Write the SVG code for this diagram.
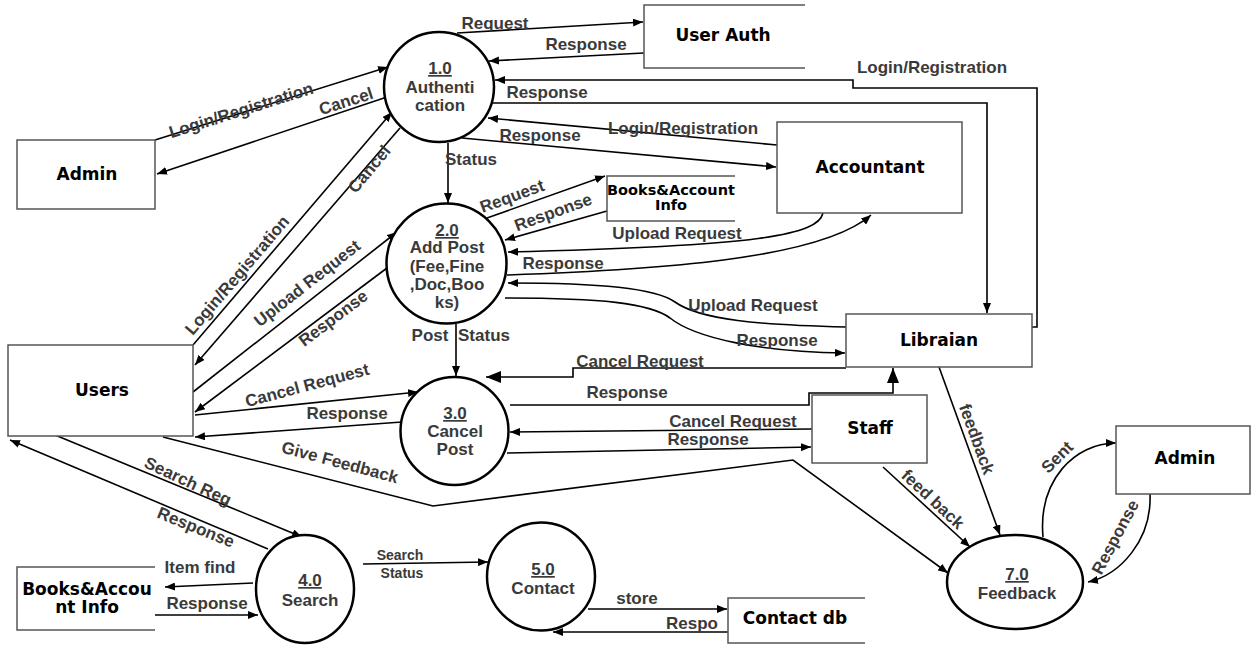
<svg xmlns="http://www.w3.org/2000/svg" width="1252" height="646" viewBox="0 0 1252 646">
<style>
.box{fill:#fff;stroke:#555;stroke-width:1.5}
.store{fill:none;stroke:#555;stroke-width:1.5}
.proc{fill:#fff;stroke:#000;stroke-width:2.5}
.ent{font-family:"DejaVu Sans",Verdana,sans-serif;font-weight:bold;font-size:17px;fill:#000;text-anchor:middle}
.lbl{font-family:"Liberation Sans",Arial,sans-serif;font-weight:bold;font-size:17px;fill:#3a3a3a;text-anchor:middle}
.sm{font-size:14px}
.c{fill:none;stroke:#000;stroke-width:1.6}
.a{marker-end:url(#ah)}
.b{marker-end:url(#big)}
</style>
<defs>
<marker id="ah" markerUnits="userSpaceOnUse" markerWidth="10" markerHeight="8" refX="10" refY="4" orient="auto"><path d="M0,0 L10,4 L0,8 z" fill="#000"/></marker>
<marker id="big" markerUnits="userSpaceOnUse" markerWidth="15" markerHeight="12" refX="15" refY="6" orient="auto"><path d="M0,0 L15,6 L0,12 z" fill="#000"/></marker>
</defs>
<rect width="1252" height="646" fill="#fff"/>

<g id="connectors">
<path class="c a" d="M457,33 L643,22"/>
<path class="c a" d="M644,53 L489,61"/>
<path class="c a" d="M1032,327 L1037,327 L1037,88 L853,88 L853,80 L495,80"/>
<path class="c a" d="M493,103 L987,103 L987,313"/>
<path class="c a" d="M777,145 L488,118"/>
<path class="c a" d="M462,138 L776,167"/>
<path class="c a" d="M448,143 L448,203"/>
<path class="c a" d="M155,140 L388,67"/>
<path class="c a" d="M387,97 L157,174"/>
<path class="c a" d="M193,345 L392,112"/>
<path class="c a" d="M400,128 L195,365"/>
<path class="c a" d="M193,392 L397,232"/>
<path class="c a" d="M387,268 L195,412"/>
<path class="c a" d="M195,415 L418,392"/>
<path class="c a" d="M402,422 L195,437"/>
<path class="c a" d="M487,218 L605,176"/>
<path class="c a" d="M607,211 L505,240"/>
<path class="c a" d="M823,213 C818,235 760,246 508,252"/>
<path class="c a" d="M507,275 C650,270 820,260 871,215"/>
<path class="c a" d="M846,327 C760,325 700,320 675,302 C655,288 600,283 508,283"/>
<path class="c a" d="M505,298 C600,298 650,303 670,318 C695,338 760,352 845,353"/>
<path class="c a" d="M456,324 L456,376"/>
<path class="c b" d="M846,368 L573,368 L573,377 L486,377"/>
<path class="c b" d="M510,405 L809,405 L809,393 L893,393 L893,368"/>
<path class="c a" d="M812,429 L510,432"/>
<path class="c a" d="M507,453 L811,447"/>
<path class="c a" d="M163,437 L433,506 L793,460 L948,573"/>
<path class="c a" d="M55,435 L302,537"/>
<path class="c a" d="M268,549 L10,440"/>
<path class="c a" d="M253,583 L165,587"/>
<path class="c a" d="M155,615 L258,615"/>
<path class="c a" d="M363,564 L488,562"/>
<path class="c a" d="M588,609 L727,609"/>
<path class="c a" d="M728,632 L553,632"/>
<path class="c a" d="M939,367 L1000,535"/>
<path class="c a" d="M883,467 L970,547"/>
<path class="c a" d="M1043,537 C1038,480 1075,443 1116,443"/>
<path class="c a" d="M1150,494 C1152,540 1120,575 1088,582"/>
</g>

<g id="labels">
<text class="lbl" x="495" y="29">Request</text>
<text class="lbl" x="586" y="50">Response</text>
<text class="lbl" x="932" y="73">Login/Registration</text>
<text class="lbl" x="547" y="98">Response</text>
<text class="lbl" x="683" y="134">Login/Registration</text>
<text class="lbl" x="540" y="141">Response</text>
<text class="lbl" x="471" y="165">Status</text>
<text class="lbl" transform="translate(241,110) rotate(-17.5)" y="6">Login/Registration</text>
<text class="lbl" transform="translate(346,101) rotate(-18)" y="6">Cancel</text>
<text class="lbl" transform="translate(512,196) rotate(-20)" y="6">Request</text>
<text class="lbl" transform="translate(553,212) rotate(-20)" y="6">Response</text>
<text class="lbl" x="677" y="239">Upload Request</text>
<text class="lbl" x="563" y="269">Response</text>
<text class="lbl" x="753" y="311">Upload Request</text>
<text class="lbl" x="777" y="346">Response</text>
<text class="lbl" x="430" y="341">Post</text>
<text class="lbl" x="484" y="341">Status</text>
<text class="lbl" x="640" y="367">Cancel Request</text>
<text class="lbl" x="627" y="398">Response</text>
<text class="lbl" x="733" y="427">Cancel Request</text>
<text class="lbl" x="708" y="445">Response</text>
<text class="lbl" transform="translate(237,275) rotate(-49.5)" y="6">Login/Registration</text>
<text class="lbl" transform="translate(369,169) rotate(-50)" y="6">Cancel</text>
<text class="lbl" transform="translate(307,283) rotate(-38)" y="6">Upload Request</text>
<text class="lbl" transform="translate(333,318) rotate(-37)" y="6">Response</text>
<text class="lbl" transform="translate(307,385) rotate(-15)" y="6">Cancel Request</text>
<text class="lbl" x="347" y="419">Response</text>
<text class="lbl" transform="translate(340,462) rotate(15)" y="6">Give Feedback</text>
<text class="lbl" transform="translate(188,481) rotate(25)" y="6">Search Reg</text>
<text class="lbl" transform="translate(196,527) rotate(22)" y="6">Response</text>
<text class="lbl" x="200" y="573">Item find</text>
<text class="lbl" x="207" y="609">Response</text>
<text class="lbl sm" x="400" y="560">Search</text>
<text class="lbl sm" x="402" y="578">Status</text>
<text class="lbl" x="637" y="604">store</text>
<text class="lbl" x="692" y="629">Respo</text>
<text class="lbl" transform="translate(977,439) rotate(70)" y="6">feedback</text>
<text class="lbl" transform="translate(933,499) rotate(43)" y="6">feed back</text>
<text class="lbl" transform="translate(1057,457) rotate(-45)" y="6">Sent</text>
<text class="lbl" transform="translate(1115,537) rotate(-62)" y="6">Response</text>
</g>

<g id="p1">
<circle class="proc" cx="439" cy="87" r="55"/>
<text class="lbl" x="440" y="74" text-decoration="underline">1.0</text>
<text class="lbl" x="440" y="93">Authenti</text>
<text class="lbl" x="440" y="111">cation</text>
</g>
<g id="p2">
<circle class="proc" cx="446.5" cy="263.5" r="60"/>
<text class="lbl" x="447" y="236" text-decoration="underline">2.0</text>
<text class="lbl" x="447" y="253">Add Post</text>
<text class="lbl" x="447" y="272">(Fee,Fine</text>
<text class="lbl" x="447" y="290">,Doc,Boo</text>
<text class="lbl" x="447" y="308">ks)</text>
</g>
<g id="p3">
<circle class="proc" cx="454.5" cy="431" r="54"/>
<text class="lbl" x="455" y="419" text-decoration="underline">3.0</text>
<text class="lbl" x="455" y="437">Cancel</text>
<text class="lbl" x="455" y="455">Post</text>
</g>
<g id="p4">
<ellipse class="proc" cx="305" cy="589" rx="49" ry="54"/>
<text class="lbl" x="310" y="586" text-decoration="underline">4.0</text>
<text class="lbl" x="310" y="606">Search</text>
</g>
<g id="p5">
<circle class="proc" cx="541" cy="576.5" r="54"/>
<text class="lbl" x="543" y="575" text-decoration="underline">5.0</text>
<text class="lbl" x="543" y="594">Contact</text>
</g>
<g id="p7">
<ellipse class="proc" cx="1015" cy="582" rx="68" ry="47"/>
<text class="lbl" x="1017" y="580" text-decoration="underline">7.0</text>
<text class="lbl" x="1017" y="599">Feedback</text>
</g>

<g id="admin1"><rect class="box" x="17" y="140" width="138" height="69"/><text class="ent" x="87" y="180">Admin</text></g>
<g id="userauth"><path class="store" d="M805,5 L644,5 L644,68 L805,68"/><text class="ent" x="723" y="41">User Auth</text></g>
<g id="accountant"><rect class="box" x="777" y="122" width="185" height="91"/><text class="ent" x="870" y="173">Accountant</text></g>
<g id="books1"><path class="store" d="M735,176 L607,176 L607,221 L735,221"/><text class="ent" style="font-size:14.5px" x="671" y="195">Books&amp;Account</text><text class="ent" style="font-size:14.5px" x="671" y="210">Info</text></g>
<g id="librarian"><rect class="box" x="846" y="314" width="186" height="53"/><text class="ent" x="939" y="346">Libraian</text></g>
<g id="users"><rect class="box" x="8" y="345" width="185" height="91"/><text class="ent" x="102" y="396">Users</text></g>
<g id="staff"><rect class="box" x="812" y="395" width="115" height="68"/><text class="ent" x="870" y="434">Staff</text></g>
<g id="admin2"><rect class="box" x="1116" y="426" width="134" height="68"/><text class="ent" x="1185" y="464">Admin</text></g>
<g id="books2"><path class="store" d="M155,567 L17,567 L17,630 L155,630"/><text class="ent" x="87" y="595">Books&amp;Accou</text><text class="ent" x="87" y="613">nt Info</text></g>
<g id="contactdb"><path class="store" d="M865,598 L728,598 L728,643 L865,643"/><text class="ent" x="795" y="624">Contact db</text></g>
</svg>
